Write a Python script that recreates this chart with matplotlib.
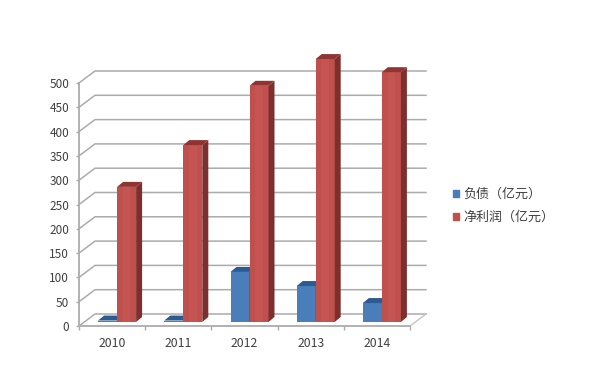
import matplotlib
matplotlib.use('Agg')
import matplotlib.pyplot as plt
from matplotlib.patches import Polygon, Patch

plt.rcParams['font.family'] = ['Noto Sans CJK SC', 'DejaVu Sans']

# Data
years = ['2010', '2011', '2012', '2013', '2014']
debt = [3, 3, 103, 74, 39]
profit = [278, 364, 486, 541, 514]
y_ticks = [0, 50, 100, 150, 200, 250, 300, 350, 400, 450, 500]

# Colours
grid_col = '#ababab'
text_col = '#404040'
blue, blue_side, blue_top = '#4a7ebb', '#2f5687', '#2c5a92'
red, red_side, red_top = '#c0504d', '#7d2f2d', '#8f3432'
red_light = '#c45552'

W, H = 600, 378
fig = plt.figure(figsize=(W / 100, H / 100), dpi=100)
# front box of the 3D chart, pixels
left, right, top, bottom = 79, 410, 83, 326
ax = fig.add_axes([left / W, 1 - bottom / H, (right - left) / W, (bottom - top) / H])
ax.set_xlim(0, len(years))
ax.set_ylim(0, 500)
ax.patch.set_alpha(0)

# pixel -> data scale
px = len(years) / (right - left)
py = 500 / (bottom - top)

# wall depth and bar shifts
wall_dx, wall_dy = 16 * px, 12 * py
bar_dx, bar_dy = 5 * px, 4 * py
depth_dx, depth_dy = 6 * px, 5 * py
bar_w = 19 * px

# floor and back wall grid lines
n = len(years)
ax.add_patch(Polygon([(0, 0), (wall_dx, wall_dy), (n + wall_dx, wall_dy), (n, 0)],
                     closed=True, fc='white', ec='none', clip_on=False, zorder=1))
for v in y_ticks:
    ax.plot([0, wall_dx, n + wall_dx], [v, v + wall_dy, v + wall_dy], color=grid_col,
            lw=1.1, clip_on=False, zorder=1.5)
ax.plot([n, n + wall_dx], [0, wall_dy], color='#c4c4c4', lw=1.0, clip_on=False, zorder=1.5)


def bar3d(x, h, front, side, topc, z, shine=None):
    # front face goes through ax.bar, top and side are the projected faces
    x0 = x + bar_dx
    ax.bar(x0, h, bar_w, bottom=bar_dy, align='edge', color=front, clip_on=False, zorder=z)
    if shine:
        # the original bars are a bit lighter in the middle
        ax.bar(x0 + bar_w * 0.3, h, bar_w * 0.4, bottom=bar_dy, align='edge', color=shine,
               clip_on=False, zorder=z)
    t = h + bar_dy
    ax.add_patch(Polygon([(x0, t), (x0 + depth_dx, t + depth_dy),
                          (x0 + bar_w + depth_dx, t + depth_dy), (x0 + bar_w, t)],
                         closed=True, fc=topc, ec='none', clip_on=False, zorder=z))
    ax.add_patch(Polygon([(x0 + bar_w, bar_dy), (x0 + bar_w + depth_dx, bar_dy + depth_dy),
                          (x0 + bar_w + depth_dx, t + depth_dy), (x0 + bar_w, t)],
                         closed=True, fc=side, ec='none', clip_on=False, zorder=z))


for i in range(n):
    bar3d(i + 0.5 - bar_w, debt[i], blue, blue_side, blue_top, 2 + i * 0.01)
    bar3d(i + 0.5, profit[i], red, red_side, red_top, 3 + i * 0.01, shine=red_light)

# axes
for s in ['top', 'right']:
    ax.spines[s].set_visible(False)
for s in ['left', 'bottom']:
    ax.spines[s].set_color(grid_col)
    ax.spines[s].set_linewidth(1.3)
    ax.spines[s].set_zorder(4)
ax.set_yticks(y_ticks)
ax.set_xticks(range(n + 1))
ax.set_xticklabels([])
ax.set_xticks([i + 0.5 for i in range(n)], labels=years, minor=True)
ax.tick_params(axis='x', which='major', length=3, color=grid_col, width=1)
ax.tick_params(axis='x', which='minor', length=0, pad=8, labelsize=8.8, labelcolor=text_col)
ax.tick_params(axis='y', length=2, color=grid_col, width=1, pad=5, labelsize=8.5, labelcolor=text_col)

handles = [Patch(color=blue, label='负债（亿元）'), Patch(color=red, label='净利润（亿元）')]
fig.legend(handles=handles, loc='center left', bbox_to_anchor=(441 / W, 1 - 206 / H), frameon=False,
           fontsize=9.4, handlelength=0.46, handleheight=0.46, handletextpad=0.35, labelspacing=0.8,
           labelcolor=text_col)

fig.savefig('out.png', dpi=100)
